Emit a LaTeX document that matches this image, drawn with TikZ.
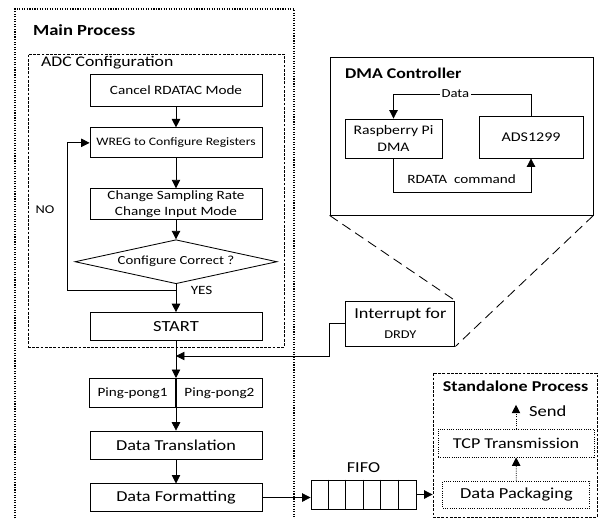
\documentclass[tikz,border=0pt]{standalone}
\usepackage{fontspec}
\setmainfont{Carlito}[FakeStretch=1.2]
\usetikzlibrary{positioning, shapes.geometric, arrows.meta}

\newcommand{\fsz}[1]{\fontsize{#1}{#1}\selectfont}

\begin{document}
\begin{tikzpicture}[
        line width = 0.6pt,
        box/.style = {rectangle, draw, minimum width = 4.3cm, inner sep = 0.5pt, align = center},
        dotbox/.style = {rectangle, draw, densely dotted, inner sep = 0.5pt},
        dashbox/.style = {rectangle, draw, dash pattern = on 2pt off 1pt},
        arr/.style = {-{Triangle[width = 6pt, length = 6pt]}}
    ]
        \useasboundingbox (0, 0) rectangle (14.95, 12.95);

        % main process frame, open at the bottom
        \draw[densely dotted, line width = 0.8pt] (0.375, -0.2) |- (7.35, 12.725) -- (7.35, -0.2);
        \node[anchor = west, font = \fsz{11}\bfseries] (mainTitle) at (0.7, 12.2) {Main Process};

        \node[dashbox, minimum width = 6.4cm, minimum height = 7.325cm] (adcBox) at (3.9, 7.9375) {};
        \node[anchor = west, font = \fsz{10.5}] (adcTitle) at (0.9, 11.375) {ADC Configuration};

        \node[box, minimum height = 0.78cm, font = \fsz{9}] (cancelNode) at (4.4, 10.69) {Cancel RDATAC Mode};
        \node[box, minimum height = 0.75cm, font = \fsz{8.1}] (wregNode) [below = 0.525cm of cancelNode] {WREG to Configure Registers};
        \node[box, minimum height = 0.78cm, font = \fontsize{9}{11.5}\selectfont] (rateNode) [below = 0.75cm of wregNode] {Change Sampling Rate\\Change Input Mode};
        \node[diamond, draw, aspect = 4.6, minimum width = 5.05cm, minimum height = 1.1cm, inner sep = 0pt, font = \fsz{8.8}] (checkNode) [below = 0.475cm of rateNode] {Configure Correct ?};
        \node[box, minimum height = 0.7cm, font = \fsz{11}] (startNode) [below = 0.7cm of checkNode] {START};

        \draw[arr] (cancelNode) -- (wregNode);
        \draw[arr] (wregNode) -- (rateNode);
        \draw[arr] (rateNode) -- (checkNode);
        \draw[arr] (checkNode) -- (startNode);

        \coordinate (noCorner) at (1.675, 5.7);
        \draw[arr] (noCorner -| checkNode.south) -- (noCorner) |- (wregNode.west);
        \node[font = \fsz{8.5}] (noLabel) at (1.125, 7.7) {NO};
        \node[font = \fsz{9}] (yesLabel) at (5.04, 5.68) {YES};

        \node[box, minimum width = 2.15cm, minimum height = 0.72cm, font = \fsz{9}, anchor = north east] (pingNode) at (4.4, 3.5) {Ping-pong1};
        \node[box, minimum width = 2.15cm, minimum height = 0.72cm, font = \fsz{9}] (pongNode) [right = 0pt of pingNode] {Ping-pong2};
        \node[box, minimum height = 0.7cm, font = \fsz{10.8}] (transNode) [below = 0.575cm of pingNode.south east] {Data Translation};
        \node[box, minimum height = 0.68cm, font = \fsz{10.8}] (formatNode) [below = 0.6cm of transNode] {Data Formatting};

        \draw[arr] (startNode) -- (pingNode.north east);
        \draw[arr] (pingNode.south east) -- (transNode);
        \draw[arr] (transNode) -- (formatNode);

        % interrupt
        \node[box, minimum width = 2.725cm, minimum height = 1.125cm, font = \fontsize{10.8}{14}\selectfont] (irqNode) at (10.01, 4.86) {Interrupt for\\{\fsz{8.5}DRDY}};
        \coordinate (irqJoin) at (4.4, 4.05);
        \draw[arr] (irqNode.west) -- ++(-0.4, 0) |- (irqJoin);

        % dma controller
        \node[rectangle, draw, minimum width = 6.575cm, minimum height = 3.95cm] (dmaBox) at (11.5375, 9.55) {};
        \node[anchor = west, font = \fsz{10.6}\bfseries] (dmaTitle) at (8.5, 11.12) {DMA Controller};
        \node[box, minimum width = 2.425cm, minimum height = 0.975cm, font = \fontsize{9.3}{12}\selectfont] (rpiNode) at (9.8375, 9.4875) {Raspberry Pi\\DMA};
        \node[box, minimum width = 2.6cm, minimum height = 1.05cm, font = \fsz{9.5}] (adsNode) at (13.275, 9.525) {ADS1299};

        \coordinate (dataTop) at (0, 10.6);
        \coordinate (cmdBottom) at (0, 8.15);
        \draw[arr] (adsNode.north) -- (adsNode.north |- dataTop) -- node[pos = 0.55, fill = white, inner sep = 1pt, font = \fsz{8.7}] (dataLabel) {Data} (rpiNode.north |- dataTop) -- (rpiNode.north);
        \draw[arr] (rpiNode.south) -- (rpiNode.south |- cmdBottom) -- (adsNode.south |- cmdBottom) -- (adsNode.south);
        \node[font = \fsz{9}] (cmdLabel) at (11.54, 8.475) {RDATA~ command};

        \draw[dash pattern = on 7pt off 4pt] (dmaBox.south west) -- (irqNode.north east);
        \draw[dash pattern = on 7pt off 4pt] (dmaBox.south east) -- (irqNode.south east);

        % fifo
        \node[rectangle, draw, minimum width = 2.625cm, minimum height = 0.725cm, inner sep = 0pt] (fifoNode) at (9.0875, 0.5875) {};
        \foreach \i in {1,...,5}
            \draw ([xshift = \i*0.4375cm]fifoNode.north west) -- ([xshift = \i*0.4375cm]fifoNode.south west);
        \node[font = \fsz{10.8}] (fifoLabel) [above = 0.05cm of fifoNode] {FIFO};
        \draw[arr] (formatNode.east) -- (formatNode.east -| fifoNode.west);

        % standalone process
        \node[dashbox, minimum width = 4.1cm, minimum height = 3.6cm] (saBox) at (12.875, 1.825) {};
        \draw[arr] (fifoNode.east) -- (fifoNode.east -| saBox.west);
        \node[font = \fsz{10.7}\bfseries] (saTitle) at (12.89, 3.3) {Standalone Process};
        \node[dotbox, minimum width = 3.675cm, minimum height = 0.675cm, font = \fsz{10.9}] (packNode) at (12.91, 0.5875) {Data Packaging};
        \node[dotbox, minimum width = 3.9cm, minimum height = 0.7cm, font = \fsz{10.7}] (tcpNode) at (12.9, 1.875) {TCP Transmission};
        \coordinate (sendTip) at (0, 2.83);
        \draw[arr, densely dotted] (packNode) -- (tcpNode);
        \draw[arr, densely dotted] (tcpNode.north) -- (tcpNode.north |- sendTip);
        \node[anchor = west, font = \fsz{11}] (sendLabel) at (13.1, 2.68) {Send};
\end{tikzpicture}
\end{document}
